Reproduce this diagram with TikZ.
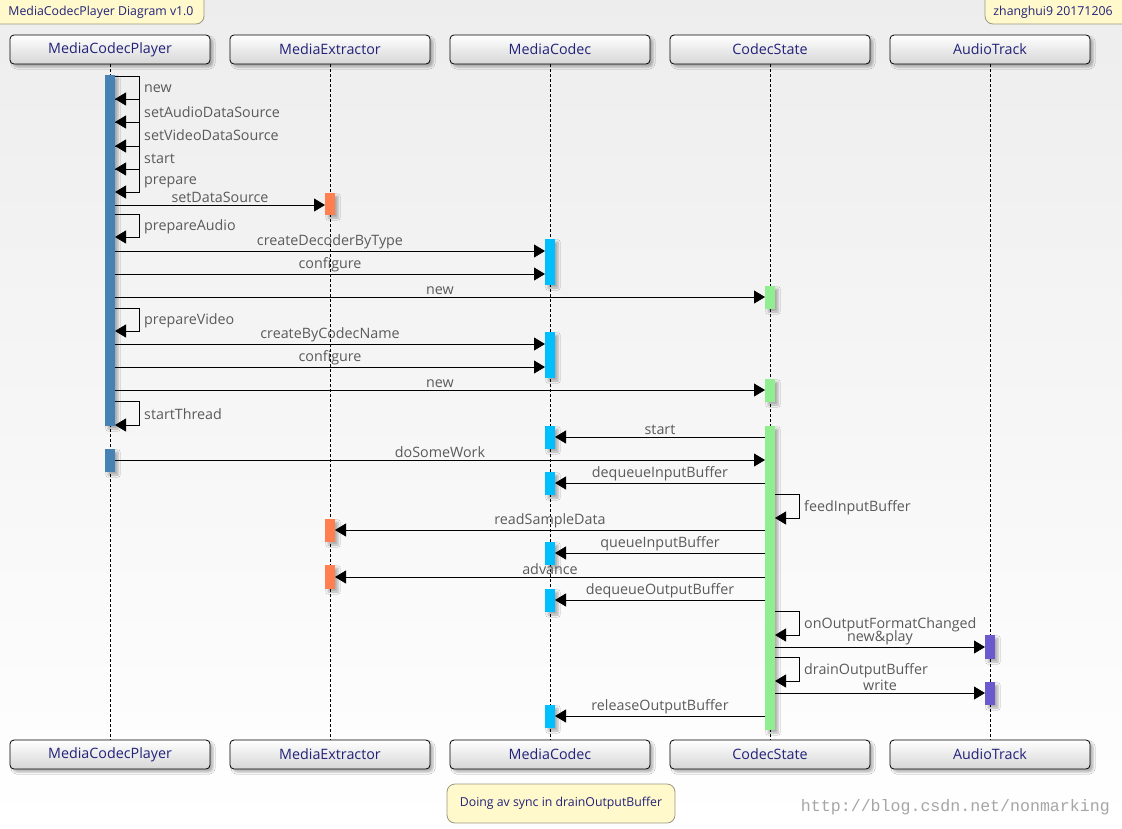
\documentclass[tikz,border=0pt]{standalone}
\usepackage{fontspec}
\setmainfont{Open Sans}
\newfontfamily\wmfont{Liberation Mono}
\usetikzlibrary{arrows.meta,shadows.blur}

\definecolor{partink}{HTML}{22227A}
\definecolor{lblink}{HTML}{5A5A5A}
\definecolor{notefill}{HTML}{FFF9CC}
\definecolor{notedraw}{HTML}{9A9880}
\definecolor{playerbar}{HTML}{4682B4}
\definecolor{extrbar}{HTML}{FF7F50}
\definecolor{codecbar}{HTML}{00BFFF}
\definecolor{statebar}{HTML}{90EE90}
\definecolor{audiobar}{HTML}{6A5ACD}

\tikzset{
  part/.style={draw=black, line width=0.8pt, rounded corners=4pt,
    minimum width=200pt, minimum height=29pt, inner sep=0pt,
    top color=white, bottom color=black!16, text=partink,
    font=\fontsize{14.3}{16}\selectfont,
    blur shadow={shadow xshift=3pt, shadow yshift=-3pt, shadow opacity=30, shadow blur steps=5}},
  lifeline/.style={draw=black, line width=0.7pt, dash pattern=on 3pt off 2pt},
  actbar/.style={minimum width=10pt, inner sep=0pt, outer sep=0pt, draw=none, anchor=north,
    blur shadow={shadow xshift=3pt, shadow yshift=-3pt, shadow opacity=30, shadow blur steps=4}},
  msg/.style={draw=black, line width=0.8pt, -{Triangle[length=11pt,width=13pt]}},
  msglbl/.style={above, inner sep=2pt, text=lblink, font=\fontsize{14.3}{16}\selectfont},
  selflbl/.style={anchor=west, inner sep=0pt, text=lblink, font=\fontsize{14.3}{16}\selectfont},
  noteshape/.style={draw=notedraw, line width=0.8pt, fill=notefill, rounded corners=8pt},
  notetext/.style={text=partink, font=\fontsize{12.3}{14}\selectfont, inner sep=0pt},
}

% message to the right, starting at the east side of #1 and ending at the west side of #2
\newcommand\callright[4]{\draw[msg] (#1.east |- 0,#3) -- node[msglbl]{#4} (#2.west |- 0,#3);}
% message to the left, from the west side of #1 to the east side of #2
\newcommand\callleft[4]{\draw[msg] (#1.west |- 0,#3) -- node[msglbl]{#4} (#2.east |- 0,#3);}
% call on itself: bar, top y, bottom y, label
\newcommand\selfcall[4]{%
  \draw[msg] (#1.east |- 0,#2) -- ++(24,0) |- (#1.east |- 0,#3);
  \path (#1.east |- 0,#2) ++(29,{(#3-#2)/2+1.5}) node[selflbl]{#4};}

\begin{document}
\begin{tikzpicture}[x=1pt,y=-1pt]
\useasboundingbox (0,0) rectangle (1122,828);
\shade[top color=black!7, bottom color=white] (0,0) rectangle (1122,828);

% header notes
\draw[noteshape] (-20,-20) rectangle (204,24);
\node[notetext] (title) at (101,12) {MediaCodecPlayer Diagram v1.0};
\draw[noteshape] (985,24) rectangle (1150,-20);
\node[notetext] (author) at (1053,12) {zhanghui9 20171206};

% participants and lifelines
\foreach \n/\x/\t in {p/110/MediaCodecPlayer, e/330/MediaExtractor, c/550/MediaCodec, s/770/CodecState, a/990/AudioTrack}{
  \node[part] (\n top) at (\x,49.5) {\t};
  \node[part] (\n bot) at (\x,754.5) {\t};
  \draw[lifeline] (\n top.south) -- (\n bot.north);
}

% activation bars
\node[actbar, fill=playerbar, minimum height=351pt] (P1) at (110,75) {};
\node[actbar, fill=playerbar, minimum height=23pt]  (P2) at (110,449) {};
\node[actbar, fill=extrbar, minimum height=22pt] (E1) at (330,193) {};
\node[actbar, fill=extrbar, minimum height=23pt] (E2) at (330,519) {};
\node[actbar, fill=extrbar, minimum height=24pt] (E3) at (330,565) {};
\node[actbar, fill=codecbar, minimum height=46pt] (C1) at (550,239) {};
\node[actbar, fill=codecbar, minimum height=46pt] (C2) at (550,332) {};
\node[actbar, fill=codecbar, minimum height=23pt] (C3) at (550,426) {};
\node[actbar, fill=codecbar, minimum height=23pt] (C4) at (550,472) {};
\node[actbar, fill=codecbar, minimum height=23pt] (C5) at (550,542) {};
\node[actbar, fill=codecbar, minimum height=23pt] (C6) at (550,589) {};
\node[actbar, fill=codecbar, minimum height=23pt] (C7) at (550,705) {};
\node[actbar, fill=statebar, minimum height=23pt]  (S1) at (770,286) {};
\node[actbar, fill=statebar, minimum height=23pt]  (S2) at (770,379) {};
\node[actbar, fill=statebar, minimum height=304pt] (S3) at (770,426) {};
\node[actbar, fill=audiobar, minimum height=24pt] (A1) at (990,635) {};
\node[actbar, fill=audiobar, minimum height=23pt] (A2) at (990,682) {};

% messages
\selfcall{P1}{76}{99}{new}
\selfcall{P1}{99}{122}{setAudioDataSource}
\selfcall{P1}{122}{146}{setVideoDataSource}
\selfcall{P1}{146}{169}{start}
\selfcall{P1}{169}{192}{prepare}
\callright{P1}{E1}{205}{setDataSource}
\selfcall{P1}{214}{237}{prepareAudio}
\callright{P1}{C1}{251}{createDecoderByType}
\callright{P1}{C1}{274}{configure}
\callright{P1}{S1}{297}{new}
\selfcall{P1}{308}{331}{prepareVideo}
\callright{P1}{C2}{344}{createByCodecName}
\callright{P1}{C2}{367}{configure}
\callright{P1}{S2}{390}{new}
\selfcall{P1}{401}{425}{startThread}
\callleft{S3}{C3}{437}{start}
\callright{P2}{S3}{460}{doSomeWork}
\callleft{S3}{C4}{483}{dequeueInputBuffer}
\selfcall{S3}{494}{518}{feedInputBuffer}
\callleft{S3}{E2}{530}{readSampleData}
\callleft{S3}{C5}{553}{queueInputBuffer}
\callleft{S3}{E3}{577}{advance}
\callleft{S3}{C6}{600}{dequeueOutputBuffer}
\selfcall{S3}{611}{635}{onOutputFormatChanged}
\callright{S3}{A1}{647}{new\&play}
\selfcall{S3}{657}{681}{drainOutputBuffer}
\callright{S3}{A2}{693}{write}
\callleft{S3}{C7}{716}{releaseOutputBuffer}

% footer note
\node[noteshape, minimum width=228pt, minimum height=39pt, inner sep=0pt,
      text=partink, font=\fontsize{12.3}{14}\selectfont] (sync) at (561,803.5) {Doing av sync in drainOutputBuffer};
\node[text=black!35, font=\wmfont\fontsize{16.6}{18}\selectfont, anchor=east, inner sep=0pt] (wm) at (1110,807) {http://blog.csdn.net/nonmarking};
\end{tikzpicture}
\end{document}
